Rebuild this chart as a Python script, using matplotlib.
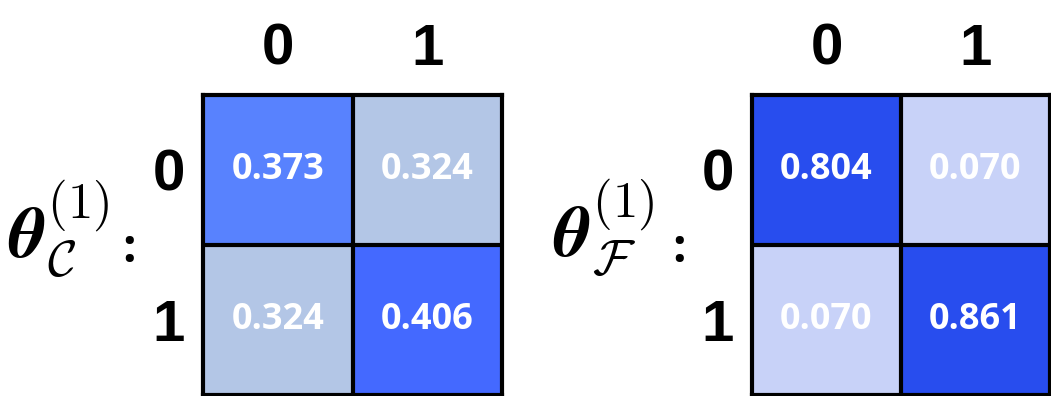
import matplotlib
matplotlib.use("Agg")
import matplotlib.pyplot as plt
import numpy as np
from matplotlib.colors import LinearSegmentedColormap, Normalize

# values of the two 2x2 parameter matrices
states = ["0", "1"]
theta_c = [[0.373, 0.324],
           [0.324, 0.406]]
theta_f = [[0.804, 0.070],
           [0.070, 0.861]]
labels = [r"$\boldsymbol{\theta}_{\mathcal{C}}^{(1)}$",
          r"$\boldsymbol{\theta}_{\mathcal{F}}^{(1)}$"]

plt.rcParams["mathtext.fontset"] = "cm"

cmap_c = LinearSegmentedColormap.from_list(
    "c", [(0.0, "#B3C6E6"), (0.6, "#5882FF"), (1.0, "#4469FF")])
cmap_f = LinearSegmentedColormap.from_list("f", ["#C8D2F8", "#284DEE"])

fig = plt.figure(figsize=(10.51, 3.96), dpi=100)

# (matrix, cmap, norm, axes rect, label x, colon x)
panels = [
    (theta_c, cmap_c, Normalize(0.324, 0.406), [0.1932, 0.0025, 0.2845, 0.758], 0.008, 0.116),
    (theta_f, cmap_f, Normalize(0.070, 0.800), [0.7155, 0.0025, 0.2835, 0.758], 0.526, 0.640),
]

for (mat, cmap, norm, rect, lx, cx), lab in zip(panels, labels):
    ax = fig.add_axes(rect)
    data = np.array(mat)
    ax.imshow(data, cmap=cmap, norm=norm, aspect="auto",
              extent=(-0.5, 1.5, 1.5, -0.5))
    for i in range(2):
        for j in range(2):
            ax.text(j, i, f"{data[i, j]:.3f}", ha="center", va="center",
                    color="white", fontsize=26, fontweight="bold",
                    family="Open Sans")
    ax.axhline(0.5, color="black", lw=3)
    ax.axvline(0.5, color="black", lw=3)
    for s in ax.spines.values():
        s.set_linewidth(3)
    ax.set_xlim(-0.5, 1.5)
    ax.set_ylim(1.5, -0.5)
    ax.xaxis.tick_top()
    ax.set_xticks([0, 1], states)
    ax.set_yticks([0, 1], states)
    ax.tick_params(length=0, labelsize=42, pad=13)
    for t in ax.get_xticklabels() + ax.get_yticklabels():
        t.set_fontweight("bold")
        t.set_family("Liberation Sans")

    fig.text(lx, 0.35, lab, fontsize=52, va="baseline")
    fig.text(cx, 0.338, ":", fontsize=34, fontweight="bold",
             family="Open Sans", va="baseline")

fig.savefig("out.png", dpi=100)
